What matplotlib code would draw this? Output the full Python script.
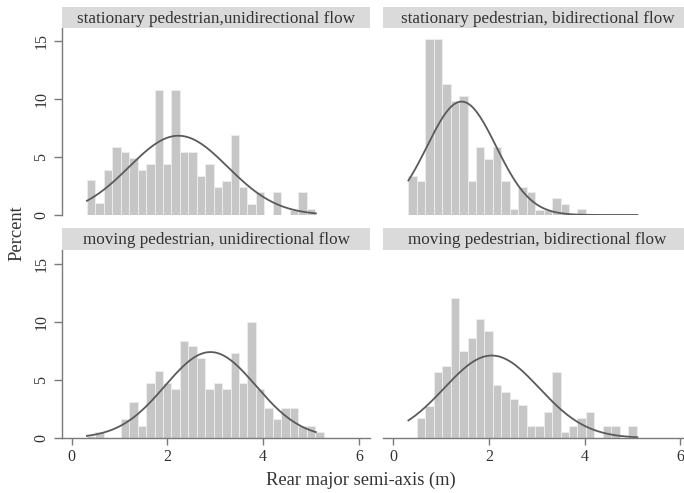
import numpy as np
import matplotlib
matplotlib.use("Agg")
import matplotlib.pyplot as plt

plt.rcParams['font.family'] = ['Liberation Serif', 'DejaVu Serif']

# ---- data (percent per bin) ----
bin_start = 0.32
bin_end = 5.26
n_bins = 28

titles = ["stationary pedestrian,unidirectional flow",
          "stationary pedestrian, bidirectional flow",
          "moving pedestrian, unidirectional flow",
          "moving pedestrian, bidirectional flow"]

pct_stat_uni = [3.0, 1.0, 3.9, 5.9, 5.4, 4.9, 3.9, 4.4, 10.8, 4.4, 10.8, 5.4, 5.4, 3.4,
                4.4, 2.45, 2.96, 6.9, 2.45, 0.95, 1.95, 0.0, 1.95, 0.0, 0.45, 1.95, 0.5, 0.0]
pct_stat_bi = [3.4, 2.96, 15.2, 15.2, 11.26, 9.85, 10.3, 2.96, 5.85, 4.85, 5.85, 2.96, 0.5, 2.45,
               1.95, 0.45, 0.45, 1.45, 0.95, 0.0, 0.5, 0.0, 0.0, 0.0, 0.0, 0.0, 0.0, 0.0]
pct_move_uni = [0.2, 0.5, 0.0, 0.0, 1.6, 3.1, 1.0, 4.7, 5.8, 4.7, 4.2, 8.4, 7.9, 6.9,
                4.2, 4.7, 4.2, 7.3, 4.7, 10.0, 4.2, 2.6, 1.6, 2.6, 2.6, 1.0, 1.0, 0.5]
pct_move_bi = [0.0, 1.7, 2.8, 5.7, 6.2, 12.1, 7.5, 8.6, 10.3, 9.2, 4.6, 4.0, 3.4, 2.85,
               1.06, 1.06, 2.27, 5.7, 0.49, 1.06, 1.7, 2.27, 0.0, 1.06, 1.06, 0.0, 1.06, 0.0]

# fitted normal curves (mean, sd)
fit_mean = [2.23, 1.43, 2.90, 2.06]
fit_sd = [1.03, 0.72, 0.95, 0.99]
curve_range = (0.32, 5.1)

series = [pct_stat_uni, pct_stat_bi, pct_move_uni, pct_move_bi]

W, H = 684, 493
fig = plt.figure(figsize=(W / 100, H / 100), dpi=100)

def fx(px):
    return px / W

def fy(py):
    return (H - py) / H

# panel pixel boxes: (left, top, right, bottom)
panel_px = [(62, 28, 370, 215), (383.5, 28, 691.5, 215),
            (62, 250, 370, 438), (383.5, 250, 691.5, 438)]
strip_px = [(62, 7, 370, 28), (383.5, 7, 691.5, 28),
            (62, 228, 370, 250), (383.5, 228, 691.5, 250)]

edges = np.linspace(bin_start, bin_end, n_bins + 1)
bw = edges[1] - edges[0]

bar_col = '#c6c6c6'
axis_col = '#7a7a7a'
text_col = '#333333'

for i in range(4):
    l, t, r, b = panel_px[i]
    ax = fig.add_axes([fx(l), fy(b), fx(r) - fx(l), fy(t) - fy(b)])
    ax.bar(edges[:-1], series[i], width=bw, align='edge', color=bar_col,
           edgecolor='#ececec', linewidth=0.7)
    xs = np.linspace(curve_range[0], curve_range[1], 300)
    m, s = fit_mean[i], fit_sd[i]
    ys = 100 * bw * np.exp(-0.5 * ((xs - m) / s) ** 2) / (s * np.sqrt(2 * np.pi))
    ax.plot(xs, ys, color='#5a5a5a', lw=1.3)
    ax.set_xlim(-0.2, 6.23)
    ylim_top = (b - t) / 11.6
    ax.set_ylim(0, ylim_top)
    for sp in ax.spines.values():
        sp.set_visible(False)
    left_col = i in (0, 2)
    bottom_row = i in (2, 3)
    if left_col:
        ax.spines['left'].set_visible(True)
        ax.spines['left'].set_color(axis_col)
        ax.spines['left'].set_linewidth(1.0)
        ax.set_yticks([0, 5, 10, 15])
        ax.set_yticklabels(['0', '5', '10', '15'], rotation=90, va='center',
                           fontsize=11.5, color=text_col)
        ax.tick_params(axis='y', length=6, width=1.0, color=axis_col, pad=3)
    else:
        ax.set_yticks([])
    if bottom_row:
        ax.spines['bottom'].set_visible(True)
        ax.spines['bottom'].set_color(axis_col)
        ax.spines['bottom'].set_linewidth(1.0)
        ax.set_xticks([0, 2, 4, 6])
        ax.set_xticklabels(['0', '2', '4', '6'], fontsize=11.5, color=text_col)
        ax.tick_params(axis='x', length=5, width=1.0, color=axis_col, pad=3)
    else:
        ax.set_xticks([])
    ax.patch.set_alpha(0)

    sl, st, sr, sb = strip_px[i]
    sax = fig.add_axes([fx(sl), fy(sb), fx(sr) - fx(sl), fy(st) - fy(sb)])
    sax.set_facecolor('#dadada')
    for sp in sax.spines.values():
        sp.set_visible(False)
    sax.set_xticks([])
    sax.set_yticks([])
    sax.text(0.5, 0.45, titles[i], transform=sax.transAxes, ha='center', va='center',
             fontsize=12.3, color=text_col)

fig.text(fx(361), fy(480), "Rear major semi-axis (m)", ha='center', va='center',
         fontsize=13.3, color=text_col)
fig.text(fx(17), fy(233), "Percent", ha='center', va='center', rotation=90,
         fontsize=13.3, color=text_col)

fig.savefig("out.png", dpi=100)
